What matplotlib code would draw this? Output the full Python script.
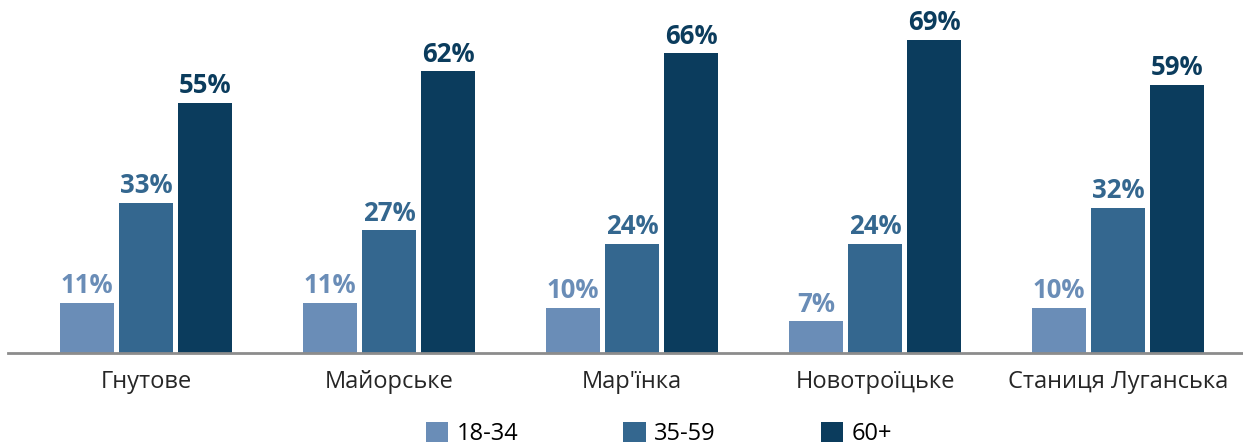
import matplotlib.pyplot as plt
import numpy as np

# --- Data ---
settlements = ['Гнутове', 'Майорське', "Мар'їнка", 'Новотроїцьке', 'Станиця Луганська']
age_groups = ['18-34', '35-59', '60+']
share_18_34 = [11, 11, 10, 7, 10]
share_35_59 = [33, 27, 24, 24, 32]
share_60_plus = [55, 62, 66, 69, 59]

colors = ['#6A8DB7', '#34678F', '#0B3C5D']
plt.rcParams['font.family'] = ['Open Sans', 'DejaVu Sans']

fig = plt.figure(figsize=(12.43, 4.44), dpi=100)
ax = fig.add_axes([8 / 1243, 91 / 444, 1234 / 1243, 353 / 444])

x = np.arange(len(settlements))
width = 0.222
step = 0.243
series = [share_18_34, share_35_59, share_60_plus]

for k, (vals, col, lab) in enumerate(zip(series, colors, age_groups)):
    pos = x + (k - 1) * step
    bars = ax.bar(pos, vals, width=width, color=col, label=lab)
    for b, v in zip(bars, vals):
        ax.text(b.get_x() + b.get_width() / 2, v + 0.8, f'{v}%',
                ha='center', va='bottom', fontsize=18.5, fontweight='bold', color=col)

ax.set_xlim(-0.568, 4.51)
ax.set_ylim(0, 77.7)
ax.set_yticks([])
ax.set_xticks(x)
ax.set_xticklabels(settlements, fontsize=17, color='#262626')
ax.tick_params(axis='x', length=0, pad=12)
for side in ['top', 'right', 'left']:
    ax.spines[side].set_visible(False)
ax.spines['bottom'].set_color('#8C8C8C')
ax.spines['bottom'].set_linewidth(2)

fig.legend(loc='upper center', bbox_to_anchor=(0.53, 1 - 422 / 444), ncol=3,
           frameon=False, fontsize=17, handlelength=0.95, handleheight=0.95,
           handletextpad=0.35, columnspacing=4.45, borderaxespad=0, borderpad=0)

fig.savefig('out.png', dpi=100)
